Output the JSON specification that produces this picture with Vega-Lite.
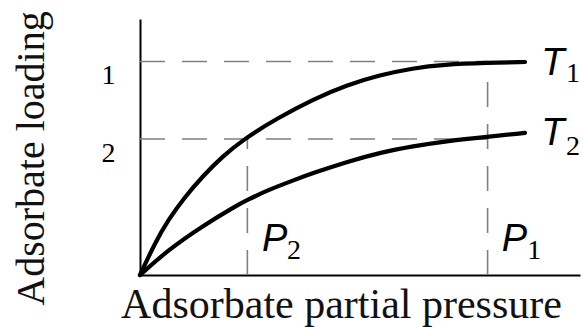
{
  "$schema": "https://vega.github.io/schema/vega-lite/v6.json",
  "width": 440,
  "height": 256,
  "autosize": {"type": "none"},
  "padding": {"left": 140, "top": 19, "right": 3, "bottom": 52},
  "background": "white",
  "config": {"view": {"stroke": null}},
  "datasets": {
    "curves": [
      {"series": "T1", "p": 0, "q": 0},
      {"series": "T1", "p": 0.034, "q": 0.125},
      {"series": "T1", "p": 0.064, "q": 0.215},
      {"series": "T1", "p": 0.102, "q": 0.305},
      {"series": "T1", "p": 0.141, "q": 0.383},
      {"series": "T1", "p": 0.186, "q": 0.461},
      {"series": "T1", "p": 0.239, "q": 0.535},
      {"series": "T1", "p": 0.313, "q": 0.613},
      {"series": "T1", "p": 0.393, "q": 0.686},
      {"series": "T1", "p": 0.470, "q": 0.742},
      {"series": "T1", "p": 0.545, "q": 0.781},
      {"series": "T1", "p": 0.620, "q": 0.808},
      {"series": "T1", "p": 0.690, "q": 0.822},
      {"series": "T1", "p": 0.789, "q": 0.829},
      {"series": "T1", "p": 0.875, "q": 0.832},
      {"series": "T2", "p": 0, "q": 0},
      {"series": "T2", "p": 0.064, "q": 0.098},
      {"series": "T2", "p": 0.141, "q": 0.190},
      {"series": "T2", "p": 0.216, "q": 0.268},
      {"series": "T2", "p": 0.245, "q": 0.294},
      {"series": "T2", "p": 0.291, "q": 0.332},
      {"series": "T2", "p": 0.352, "q": 0.372},
      {"series": "T2", "p": 0.393, "q": 0.398},
      {"series": "T2", "p": 0.470, "q": 0.442},
      {"series": "T2", "p": 0.545, "q": 0.478},
      {"series": "T2", "p": 0.620, "q": 0.503},
      {"series": "T2", "p": 0.700, "q": 0.524},
      {"series": "T2", "p": 0.789, "q": 0.540},
      {"series": "T2", "p": 0.875, "q": 0.555}
    ],
    "hrules": [
      {"p": 0, "p2": 0.79, "q": 0.834},
      {"p": 0, "p2": 0.79, "q": 0.531}
    ],
    "vrules": [
      {"p": 0.244, "q": 0, "q2": 0.531},
      {"p": 0.79, "q": 0, "q2": 0.834}
    ],
    "letters": [
      {"t": "T", "p": 0.912, "q": 0.781},
      {"t": "T", "p": 0.912, "q": 0.508},
      {"t": "P", "p": 0.277, "q": 0.094},
      {"t": "P", "p": 0.822, "q": 0.094}
    ],
    "subs": [
      {"t": "1", "p": 0.968, "q": 0.753},
      {"t": "2", "p": 0.968, "q": 0.467},
      {"t": "2", "p": 0.334, "q": 0.064},
      {"t": "1", "p": 0.880, "q": 0.064}
    ]
  },
  "layer": [
    {
      "data": {"name": "hrules"},
      "mark": {"type": "rule", "color": "#808080", "strokeWidth": 1.6, "strokeDash": [25, 17]},
      "encoding": {
        "x": {"field": "p", "type": "quantitative", "title": "Adsorbate partial pressure",
          "scale": {"domain": [0, 1], "nice": false, "zero": false},
          "axis": {"labels": false, "ticks": false, "grid": false,
            "domainColor": "#000", "domainWidth": 2,
            "titleFont": "Liberation Serif", "titleFontSize": 42, "titleFontWeight": "normal", "titleColor": "#111",
            "titleAlign": "center", "titleBaseline": "alphabetic", "titleX": 201, "titleY": 42}},
        "x2": {"field": "p2"},
        "y": {"field": "q", "type": "quantitative", "title": "Adsorbate loading",
          "scale": {"domain": [0, 1], "nice": false, "zero": false},
          "axis": {"values": [0.531, 0.834], "labelExpr": "datum.value > 0.7 ? '1' : '2'",
            "ticks": false, "grid": false, "domainColor": "#000", "domainWidth": 2,
            "labelFont": "Liberation Serif", "labelFontSize": 28, "labelColor": "#000", "labelPadding": 25,
            "labelBaseline": "top",
            "titleFont": "Liberation Serif", "titleFontSize": 40, "titleFontWeight": "normal", "titleColor": "#111",
            "titleAngle": -90, "titleAlign": "center", "titleBaseline": "alphabetic", "titleX": -97, "titleY": 139}}
      }
    },
    {
      "data": {"name": "vrules"},
      "mark": {"type": "rule", "color": "#808080", "strokeWidth": 1.6, "strokeDash": [25, 17]},
      "encoding": {
        "x": {"field": "p", "type": "quantitative", "title": "Adsorbate partial pressure"},
        "y": {"field": "q", "type": "quantitative", "title": "Adsorbate loading"},
        "y2": {"field": "q2"}
      }
    },
    {
      "data": {"name": "curves"},
      "mark": {"type": "line", "color": "#000", "strokeWidth": 4.2, "interpolate": "basis", "strokeCap": "round"},
      "encoding": {
        "x": {"field": "p", "type": "quantitative", "title": "Adsorbate partial pressure"},
        "y": {"field": "q", "type": "quantitative", "title": "Adsorbate loading"},
        "detail": {"field": "series"}
      }
    },
    {
      "data": {"name": "letters"},
      "mark": {"type": "text", "font": "Liberation Sans", "fontStyle": "italic", "fontSize": 38, "align": "left", "baseline": "alphabetic", "color": "#000"},
      "encoding": {
        "x": {"field": "p", "type": "quantitative", "title": "Adsorbate partial pressure"},
        "y": {"field": "q", "type": "quantitative", "title": "Adsorbate loading"},
        "text": {"field": "t"}
      }
    },
    {
      "data": {"name": "subs"},
      "mark": {"type": "text", "font": "Liberation Serif", "fontSize": 28, "align": "left", "baseline": "alphabetic", "color": "#000"},
      "encoding": {
        "x": {"field": "p", "type": "quantitative", "title": "Adsorbate partial pressure"},
        "y": {"field": "q", "type": "quantitative", "title": "Adsorbate loading"},
        "text": {"field": "t"}
      }
    }
  ]
}
